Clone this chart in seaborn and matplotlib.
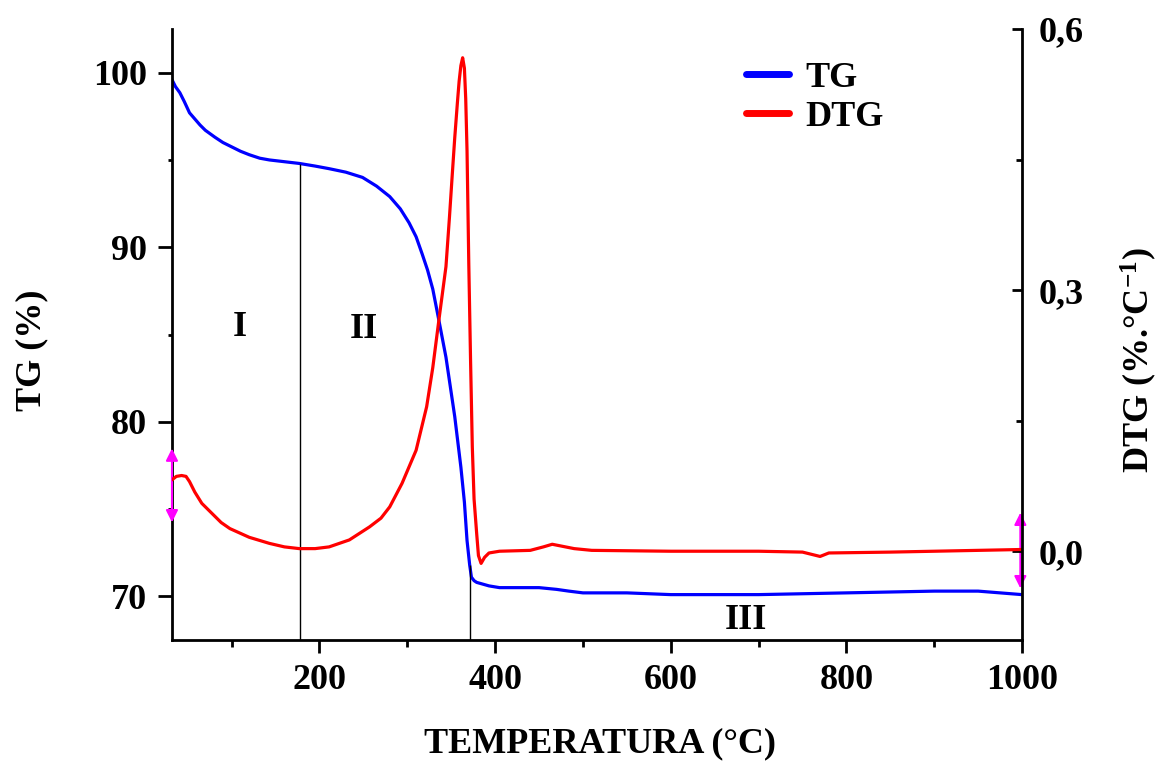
import numpy as np
import pandas as pd
import seaborn as sns
from matplotlib import pyplot as plt
from matplotlib.ticker import MultipleLocator, FuncFormatter

sns.set_style('ticks')
plt.rcParams['font.family'] = ['Liberation Serif', 'DejaVu Serif']
plt.rcParams['font.weight'] = 'bold'
plt.rcParams['mathtext.fontset'] = 'custom'
plt.rcParams['mathtext.rm'] = 'Liberation Serif:bold'
plt.rcParams['mathtext.it'] = 'Liberation Serif:bold'
plt.rcParams['mathtext.bf'] = 'Liberation Serif:bold'
for k in ('text.color', 'axes.labelcolor', 'xtick.color', 'ytick.color'):
    plt.rcParams[k] = 'black'

# TG curve (mass %, left axis)
tg_temp = [32, 36, 41, 46, 52, 58, 64, 70, 81, 90, 98, 110, 120, 132, 143,
           160, 177, 195, 211, 230, 249, 265, 280, 292, 302, 310, 317, 323,
           329, 336, 344, 354, 361, 365, 368, 371, 373, 376, 379, 386, 393,
           405, 450, 470, 484, 500, 550, 600, 700, 750, 800, 900, 950, 1000]
tg_mass = [99.6, 99.2, 98.85, 98.35, 97.7, 97.35, 97.0, 96.7, 96.3, 96.0,
           95.8, 95.5, 95.3, 95.1, 95.0, 94.9, 94.8, 94.65, 94.5, 94.3, 94.0,
           93.5, 92.9, 92.2, 91.4, 90.6, 89.6, 88.7, 87.6, 85.8, 83.7, 80.3,
           77.4, 75.4, 73.2, 71.8, 71.1, 70.9, 70.8, 70.7, 70.6, 70.5, 70.5,
           70.4, 70.3, 70.2, 70.2, 70.1, 70.1, 70.15, 70.2, 70.3, 70.3, 70.1]

# DTG curve (%/°C, right axis)
dtg_temp = [32, 37, 43, 48, 52, 58, 66, 77, 88, 98, 120, 143, 160, 177, 195,
            211, 234, 257, 270, 280, 294, 310, 322, 329, 336, 344, 348, 351,
            354, 357, 359, 361, 363, 365, 366.5, 368, 370, 372, 374, 376, 379,
            381, 384, 388, 393, 405, 440, 455, 465, 475, 490, 510, 600, 700,
            750, 770, 780, 850, 950, 1000]
dtg_rate = [0.082, 0.086, 0.087, 0.086, 0.080, 0.068, 0.055, 0.044, 0.033,
            0.026, 0.016, 0.009, 0.005, 0.003, 0.003, 0.005, 0.013, 0.028,
            0.038, 0.051, 0.078, 0.116, 0.166, 0.211, 0.266, 0.327, 0.384,
            0.430, 0.475, 0.515, 0.540, 0.558, 0.567, 0.555, 0.52, 0.46, 0.33,
            0.22, 0.12, 0.06, 0.02, -0.005, -0.014, -0.007, -0.002, 0.0, 0.001,
            0.005, 0.008, 0.006, 0.003, 0.001, 0.0, 0.0, -0.001, -0.006,
            -0.002, -0.001, 0.001, 0.002]

# stage boundaries and stage labels
stage_bounds = [178, 371]
stage_names = ['I', 'II', 'III']
stage_x = [109, 251, 686]
stage_y = [85.4, 85.3, 68.6]

tg = pd.DataFrame({'T': tg_temp, 'TG': tg_mass})
dtg = pd.DataFrame({'T': dtg_temp, 'DTG': dtg_rate})

fig = plt.figure(figsize=(11.69, 7.62), dpi=100)
ax = fig.add_axes([0.1471, 0.1601, 0.7272, 0.8018])
ax2 = ax.twinx()

sns.lineplot(data=tg, x='T', y='TG', ax=ax, color='#0000ff', lw=2.3,
             label='TG', legend=False)
sns.lineplot(data=dtg, x='T', y='DTG', ax=ax2, color='#ff0000', lw=2.3,
             label='DTG', legend=False)

ax.set_xlim(32, 1000)
ax.set_ylim(67.5, 102.5)
ax2.set_ylim(-0.102, 0.6)

# vertical separators up to the TG curve
for b in stage_bounds:
    ax.vlines(b, 67.5, np.interp(b, tg_temp, tg_mass), color='black', lw=1.0)

for name, xs, ys in zip(stage_names, stage_x, stage_y):
    ax.text(xs, ys, name, fontsize=26, fontweight='bold', ha='center', va='center')

# spines
for a in (ax, ax2):
    a.spines['top'].set_visible(False)
    for s in ('left', 'right', 'bottom'):
        a.spines[s].set_linewidth(2)
        a.spines[s].set_color('black')
ax.spines['right'].set_visible(False)
ax2.spines['left'].set_visible(False)
ax2.spines['bottom'].set_visible(False)

ax.xaxis.set_major_locator(MultipleLocator(200))
ax.xaxis.set_minor_locator(MultipleLocator(100))
ax.yaxis.set_major_locator(MultipleLocator(10))
ax.yaxis.set_minor_locator(MultipleLocator(5))
ax2.yaxis.set_major_locator(MultipleLocator(0.3))
ax2.yaxis.set_minor_locator(MultipleLocator(0.15))
ax2.yaxis.set_major_formatter(FuncFormatter(lambda v, p: f'{v:.1f}'.replace('.', ',').replace('-0,0', '0,0')))

ax.tick_params(axis='x', which='major', direction='out', length=9, width=2,
               labelsize=26, pad=8)
ax.tick_params(axis='x', which='minor', direction='out', length=5, width=2)
ax.tick_params(axis='y', which='major', direction='out', length=10, width=2,
               labelsize=26, pad=8)
ax.tick_params(axis='y', which='minor', direction='out', length=3, width=2)
ax2.tick_params(axis='y', which='major', direction='in', length=7, width=2,
                labelsize=26, pad=12)
ax2.tick_params(axis='y', which='minor', direction='in', length=4, width=2)
for lab in ax.get_xticklabels() + ax.get_yticklabels() + ax2.get_yticklabels():
    lab.set_fontweight('bold')

ax.set_xlabel('TEMPERATURA (°C)', fontsize=26, fontweight='bold')
ax.set_ylabel('TG (%)', fontsize=26, fontweight='bold')
ax2.set_ylabel(r'DTG (%.°C$^{\mathrm{-1}}$)', fontsize=26, fontweight='bold')
ax.xaxis.set_label_coords(0.504, -0.143)
ax.yaxis.set_label_coords(-0.146, 0.475)
ax2.yaxis.set_label_coords(1.113, 0.458)

# axis-scale handles (magenta double arrows)
ax.annotate('', xy=(0.0, 0.318), xytext=(0.0, 0.188), xycoords='axes fraction',
            arrowprops=dict(arrowstyle='<|-|>', color='magenta', lw=1.5,
                            mutation_scale=18))
ax.annotate('', xy=(0.998, 0.213), xytext=(0.998, 0.080), xycoords='axes fraction',
            arrowprops=dict(arrowstyle='<|-|>', color='magenta', lw=1.5,
                            mutation_scale=18))

h1, l1 = ax.get_legend_handles_labels()
h2, l2 = ax2.get_legend_handles_labels()
leg = ax2.legend(h1 + h2, l1 + l2, loc='upper left', bbox_to_anchor=(0.637, 1.0),
                 frameon=False, fontsize=26, handlelength=1.2, handletextpad=0.45,
                 labelspacing=0.15)
for line in leg.get_lines():
    line.set_linewidth(5)
for t in leg.get_texts():
    t.set_fontweight('bold')

plt.savefig('out.png', dpi=100)
